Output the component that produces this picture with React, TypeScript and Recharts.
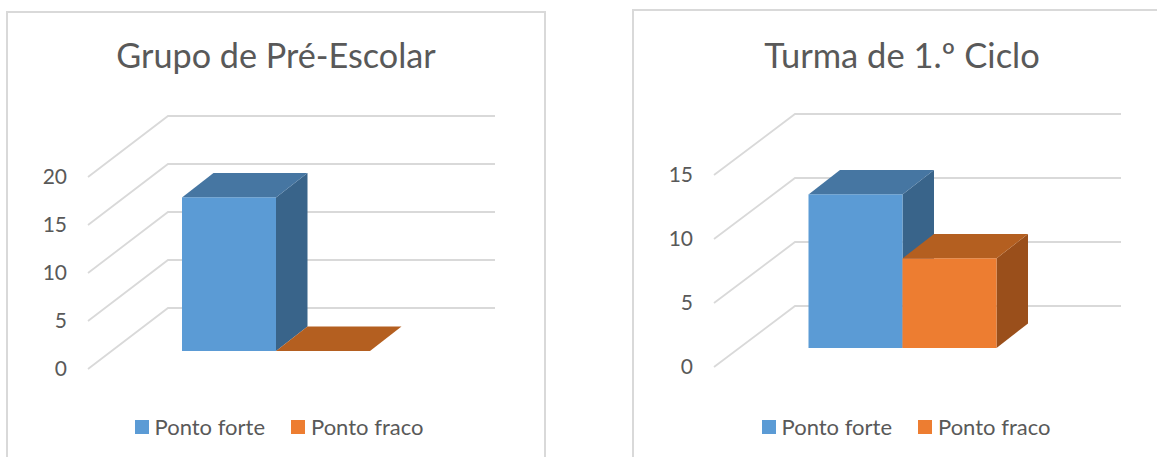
import React from 'react';
import { BarChart, Bar, XAxis, YAxis, CartesianGrid, Legend } from 'recharts';

const categories = ['Alunos'];
const seriesNames = ['Ponto forte', 'Ponto fraco'];

const preEscolarForte = [16];
const preEscolarFraco = [0];
const preEscolarTicks = [0, 5, 10, 15, 20];

const primeiroCicloForte = [12];
const primeiroCicloFraco = [7];
const primeiroCicloTicks = [0, 5, 10, 15];

const buildRows = (forte: number[], fraco: number[]) =>
    categories.map((name, i) => ({ name, forte: forte[i], fraco: fraco[i] }));

const FONT = 'Lato, sans-serif';
const TEXT = '#595959';
const GRID = '#d9d9d9';

const BLUE = { front: '#5b9bd5', top: '#4676a2', side: '#39648a' };
const ORANGE = { front: '#ed7d31', top: '#b45f20', side: '#9a4f1b' };

// Cuboid drawn from the rectangle Recharts computes for the bar
const Box3D = ({ x, y, width, height, colors, lift, depth }: any) => {
    const left = x + lift[0];
    const right = left + width;
    const top = y + lift[1];
    const bottom = top + height;
    const [dx, dy] = depth;
    return (
        <g>
            <polygon
                points={`${right},${top} ${right + dx},${top + dy} ${right + dx},${bottom + dy} ${right},${bottom}`}
                fill={colors.side}
            />
            <polygon
                points={`${left},${top} ${left + dx},${top + dy} ${right + dx},${top + dy} ${right},${top}`}
                fill={colors.top}
            />
            {height > 0 && <rect x={left} y={top} width={width} height={height} fill={colors.front} />}
        </g>
    );
};

// Swatches and labels under the chart
const LegendRow = ({ payload }: any) => (
    <div style={{ display: 'flex', justifyContent: 'center', gap: 26, fontFamily: FONT, fontSize: 22, color: TEXT }}>
        {(payload || []).map((item: any) => (
            <div key={item.value} style={{ display: 'flex', alignItems: 'center', gap: 6 }}>
                <span style={{ width: 14, height: 14, background: item.color, display: 'inline-block' }} />
                <span>{item.value}</span>
            </div>
        ))}
    </div>
);

interface PanelProps {
    title: string;
    rows: { name: string; forte: number; fraco: number }[];
    ticks: number[];
    frame: { left: number; top: number; width: number; height: number };
    margin: { top: number; right: number; bottom: number; left: number };
    wallShift: [number, number];
    lift: [number, number];
    titleTop: number;
    titleSize: number;
    titleWidth: number;
    legendTop: number;
    legendLeft: number;
    legendWidth: number;
}

function Panel({ title, rows, ticks, frame, margin, wallShift, lift, titleTop, titleSize, titleWidth, legendTop, legendLeft, legendWidth }: PanelProps) {
    const depth: [number, number] = [31.5, -24.5];
    const axisWidth = 60;

    // Each gridline runs up the side wall, then along the back wall
    const wallLine = ({ x1, x2, y1, key }: any) => {
        const backX = x1 + wallShift[0];
        const backY = y1 + wallShift[1];
        return (
            <polyline
                key={key}
                points={`${x1},${y1} ${backX},${backY} ${x2 + wallShift[0]},${backY}`}
                fill="none"
                stroke={GRID}
                strokeWidth={1.8}
            />
        );
    };

    return (
        <div
            style={{
                position: 'absolute',
                left: frame.left,
                top: frame.top,
                width: frame.width,
                height: frame.height,
                boxSizing: 'border-box',
                border: `2px solid ${GRID}`,
                background: '#fff',
            }}
        >
            <div
                style={{
                    position: 'absolute',
                    left: 0,
                    width: titleWidth,
                    top: titleTop,
                    textAlign: 'center',
                    fontFamily: FONT,
                    fontSize: titleSize,
                    color: TEXT,
                    whiteSpace: 'nowrap',
                }}
            >
                {title}
            </div>
            <div style={{ position: 'absolute', left: 0, top: 0 }}>
                <BarChart
                    width={frame.width - 4}
                    height={frame.height - 4}
                    data={rows}
                    margin={{ ...margin, left: margin.left - axisWidth }}
                    barGap={0}
                >
                    <CartesianGrid horizontal={wallLine} vertical={false} />
                    <XAxis dataKey="name" hide />
                    <YAxis
                        width={axisWidth}
                        domain={[0, ticks[ticks.length - 1]]}
                        ticks={ticks}
                        interval={0}
                        axisLine={false}
                        tickLine={false}
                        tickSize={0}
                        tickMargin={21}
                        tick={{ fill: TEXT, fontSize: 21, fontFamily: FONT }}
                    />
                    <Legend
                        verticalAlign="middle"
                        align="center"
                        content={<LegendRow />}
                        wrapperStyle={{ top: legendTop, left: legendLeft, width: legendWidth, bottom: 'auto' }}
                    />
                    <Bar
                        dataKey="forte"
                        name={seriesNames[0]}
                        fill={BLUE.front}
                        barSize={94}
                        isAnimationActive={false}
                        shape={(p: any) => <Box3D {...p} colors={BLUE} lift={lift} depth={depth} />}
                    />
                    <Bar
                        dataKey="fraco"
                        name={seriesNames[1]}
                        fill={ORANGE.front}
                        barSize={94}
                        isAnimationActive={false}
                        shape={(p: any) => <Box3D {...p} colors={ORANGE} lift={lift} depth={depth} />}
                    />
                </BarChart>
            </div>
        </div>
    );
}

export default function App() {
    return (
        <div style={{ position: 'absolute', left: 0, top: 0, width: 1157, height: 457, overflow: 'hidden', background: '#fff' }}>
            <Panel
                title="Grupo de Pré-Escolar"
                rows={buildRows(preEscolarForte, preEscolarFraco)}
                ticks={preEscolarTicks}
                frame={{ left: 6, top: 11, width: 540, height: 470 }}
                margin={{ top: 164, right: 129, bottom: 110, left: 80 }}
                wallShift={[80, -61]}
                lift={[24, -18]}
                titleTop={21}
                titleSize={34.2}
                titleWidth={536}
                legendTop={400}
                legendLeft={3}
                legendWidth={536}
            />
            <Panel
                title="Turma de 1.º Ciclo"
                rows={buildRows(primeiroCicloForte, primeiroCicloFraco)}
                ticks={primeiroCicloTicks}
                frame={{ left: 632, top: 9, width: 560, height: 470 }}
                margin={{ top: 164, right: 150, bottom: 110, left: 80 }}
                wallShift={[81, -61]}
                lift={[25.5, -19]}
                titleTop={23}
                titleSize={34.5}
                titleWidth={536}
                legendTop={402}
                legendLeft={4}
                legendWidth={536}
            />
        </div>
    );
}
